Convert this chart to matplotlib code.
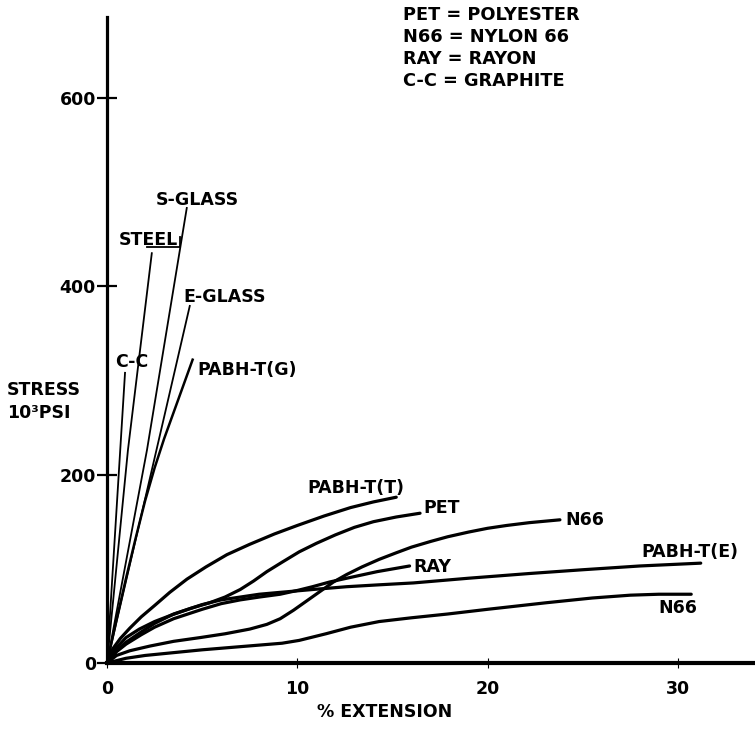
import matplotlib
matplotlib.use("Agg")
import matplotlib.pyplot as plt

plt.rcParams['font.family'] = ['DejaVu Sans']
plt.rcParams['font.weight'] = 'bold'

# ---- data (x = % extension, y = stress, 10^3 psi) ----
cc_x = [0, 0.95]
cc_y = [0, 309]
steel_x = [0, 1.1, 2.36]
steel_y = [0, 226, 436]
sglass_x = [0, 2.1, 4.2]
sglass_y = [0, 226, 484]
eglass_x = [0, 3.0, 4.36]
eglass_y = [0, 261, 380]
pabhg_x = [0, 0.5, 1.0, 1.5, 2.0, 2.5, 3.0, 3.5, 4.0, 4.5]
pabhg_y = [0, 46, 90, 132, 172, 207, 238, 266, 294, 322]

pabht_x = [0, 0.3, 0.7, 1.2, 1.8, 2.5, 3.3, 4.2, 5.2, 6.3, 7.5, 8.8, 10.0,
           11.4, 12.8, 14.0, 15.2]
pabht_y = [0, 15, 26, 37, 49, 61, 75, 89, 102, 115, 126, 137, 146,
           156, 165, 171, 176]
pet_x = [0, 0.4, 1.0, 1.7, 2.5, 3.4, 4.4, 5.4, 6.2, 7.0, 7.7, 8.4, 9.2,
         10.1, 11.0, 12.0, 13.0, 14.0, 15.2, 16.45]
pet_y = [0, 14, 27, 36, 44, 51, 58, 64, 70, 78, 87, 97, 107,
         118, 127, 136, 144, 150, 155, 159]
n66a_x = [0, 0.5, 1.2, 2.26, 3.5, 4.9, 6.2, 7.5, 8.4, 9.1, 9.8, 10.5, 11.2,
          11.9, 12.6, 13.4, 14.3, 15.2, 16.0, 17.0, 17.9, 19.0, 20.0, 21.0,
          22.2, 23.8]
n66a_y = [0, 8, 13, 18, 23, 27, 31, 36, 41, 47, 56, 66, 76,
          86, 94, 102, 110, 117, 123, 129, 134, 139, 143, 146,
          149, 152]
ray_x = [0, 0.5, 1.0, 1.8, 2.5, 3.5, 5.0, 6.0, 7.0, 8.0, 9.1, 10.0, 10.8,
         11.7, 12.6, 14.2, 15.9]
ray_y = [0, 12, 20, 30, 38, 47, 57, 63, 67, 70, 73, 77, 81,
         86, 90, 97, 103]
pabhe_x = [0, 0.5, 1.0, 1.8, 2.5, 3.5, 5.0, 6.0, 7.0, 8.0, 9.1, 10.8, 12.6,
           14.3, 16.1, 19.0, 22.2, 25.0, 28.0, 31.2]
pabhe_y = [0, 13, 22, 33, 42, 52, 62, 67, 70, 73, 75, 78, 81,
           83, 85, 90, 95, 99, 103, 106]
n66b_x = [0, 1.0, 2.0, 3.5, 5.0, 6.5, 8.0, 9.2, 10.1, 10.7, 11.5, 12.8,
          14.3, 16.0, 17.9, 20.0, 23.1, 25.5, 27.5, 29.0, 30.7]
n66b_y = [0, 5, 8, 11, 14, 16.5, 19, 21, 24, 27, 31, 38,
          44, 48, 52, 57, 64, 69, 72, 73, 73]

xticks = [0, 10, 20, 30]
yticks = [0, 200, 400, 600]

legend_lines = ["PET = POLYESTER", "N66 = NYLON 66", "RAY = RAYON", "C-C = GRAPHITE"]

W, H = 755, 732
fig = plt.figure(figsize=(W / 100, H / 100), dpi=100)
x0, y0 = 107, 663
xs, ys = 19.03, 0.942
ax = fig.add_axes([x0 / W, (H - y0) / H, (W - x0) / W, (y0 - 17) / H])
ax.set_xlim(0, (W - x0) / xs)
ax.set_ylim(0, (y0 - 17) / ys)

for s in ['top', 'right']:
    ax.spines[s].set_visible(False)
ax.spines['left'].set_linewidth(2.3)
ax.spines['bottom'].set_linewidth(3.0)

thin = 1.3
thick = 2.3
for xx, yy in [(cc_x, cc_y), (steel_x, steel_y), (sglass_x, sglass_y),
               (eglass_x, eglass_y)]:
    ax.plot(xx, yy, color='black', lw=thin, solid_capstyle='butt', clip_on=False)
ax.plot(pabhg_x, pabhg_y, color='black', lw=1.8, solid_joinstyle='round',
        clip_on=False)
for xx, yy in [(pabht_x, pabht_y), (pet_x, pet_y), (n66a_x, n66a_y),
               (ray_x, ray_y), (pabhe_x, pabhe_y), (n66b_x, n66b_y)]:
    ax.plot(xx, yy, color='black', lw=thick, solid_joinstyle='round',
            solid_capstyle='round', clip_on=False)

# STEEL bracket
ax.plot([2.1, 3.83, 3.83], [442, 442, 452], color='black', lw=1.3)

ax.set_xticks(xticks)
ax.set_yticks(yticks)
ax.tick_params(axis='y', direction='inout', length=14, width=1.6, pad=1,
               labelsize=12.5)
ax.tick_params(axis='x', direction='inout', length=7, width=0.8, pad=9,
               labelsize=12.5)
for lab in ax.get_xticklabels() + ax.get_yticklabels():
    lab.set_fontweight('bold')

fs = 12.5
def lbl(x, y, t, ha='center'):
    ax.text(x, y, t, ha=ha, va='center', fontsize=fs, fontweight='bold')

lbl(4.73, 491, "S-GLASS")
lbl(2.15, 449, "STEEL")
lbl(6.2, 389, "E-GLASS")
lbl(1.31, 320, "C-C")
lbl(7.37, 311, "PABH-T(G)")
lbl(13.1, 186, "PABH-T(T)")
lbl(16.6, 165, "PET", ha='left')
lbl(24.1, 152, "N66", ha='left')
lbl(16.1, 102, "RAY", ha='left')
lbl(28.1, 118, "PABH-T(E)", ha='left')
lbl(30.0, 58, "N66")

def ftext(px, py, t, ha='left', size=fs):
    fig.text(px / W, 1 - py / H, t, ha=ha, va='center', fontsize=size,
             fontweight='bold')

ftext(7, 390, "STRESS")
ftext(7, 413, "10³PSI")
ftext(385, 712, "% EXTENSION", ha='center')
for i, t in enumerate(legend_lines):
    ftext(403, 15 + 22 * i, t, size=12.8)

fig.savefig("out.png", dpi=100)
